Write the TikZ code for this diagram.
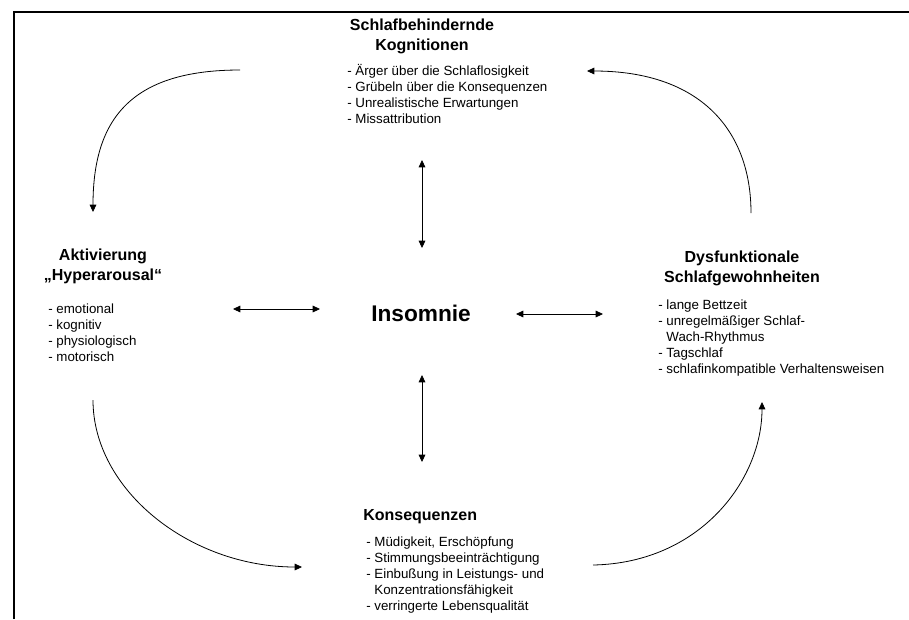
\documentclass[tikz,border=0pt]{standalone}
\usepackage{fontspec}
\setmainfont{Liberation Sans}
\usetikzlibrary{arrows.meta,positioning}
\begin{document}
\begin{tikzpicture}[
x=0.75pt, y=-0.75pt,
title/.style={font=\bfseries\fontsize{12}{14.4}\selectfont, align=center, inner sep=0pt},
items/.style={font=\fontsize{10}{12}\selectfont, align=left, inner sep=0pt, anchor=north west},
arr/.style={-{Triangle[length=5.5pt,width=5pt]}, line width=0.6pt},
dbl/.style={{Triangle[length=5.5pt,width=5pt]}-{Triangle[length=5.5pt,width=5pt]}, line width=0.6pt}
]
\useasboundingbox (0,0) rectangle (909,619);
\draw[line width=2pt] (14,619) -- (14,12) -- (909,12);
\node[title, anchor=north] (kogtitle) at (422,19) {Schlafbehindernde\\Kognitionen};
\node[items] (kogitems) at (347,64) {- Ärger über die Schlaflosigkeit\\- Grübeln über die Konsequenzen\\- Unrealistische Erwartungen\\- Missattribution};
\node[title, anchor=north] (akttitle) at (103,249) {Aktivierung\\„Hyperarousal“};
\node[items] (aktitems) at (48,304) {- emotional\\- kognitiv\\- physiologisch\\- motorisch};
\node[title, anchor=north] (dystitle) at (742,251) {Dysfunktionale\\Schlafgewohnheiten};
\node[items] (dysitems) at (658,300) {- lange Bettzeit\\- unregelmäßiger Schlaf-\\\phantom{- }Wach-Rhythmus\\- Tagschlaf\\- schlafinkompatible Verhaltensweisen};
\node[title, anchor=north west] (kontitle) at (363,509) {Konsequenzen};
\node[items] (konitems) at (366,537) {- Müdigkeit, Erschöpfung\\- Stimmungsbeeinträchtigung\\- Einbußung in Leistungs- und\\\phantom{- }Konzentrationsfähigkeit\\- verringerte Lebensqualität};
\node[font=\bfseries\fontsize{17}{20}\selectfont, inner sep=0pt] (insomnie) at (421,313) {Insomnie};
\draw[dbl] ([shift={(75,96)}]kogitems.north west) -- ([shift={(1,-65)}]insomnie.center);
\draw[dbl] ([shift={(56,-75)}]konitems.north west) -- ([shift={(1,62)}]insomnie.center);
\draw[dbl] ([shift={(185,5)}]aktitems.north west) -- ([shift={(-101,-4)}]insomnie.center);
\draw[dbl] ([shift={(-55,14)}]dysitems.north west) -- ([shift={(95,1)}]insomnie.center);
\draw[arr] ([shift={(-107,6)}]kogitems.north west) .. controls (130,70) and (93,120) .. ([shift={(-10,-37)}]akttitle.north);
\draw[arr] ([shift={(9,-38)}]dystitle.north) .. controls (751,130) and (700,71) .. ([shift={(240,7)}]kogitems.north west);
\draw[arr] ([shift={(45,96)}]aktitems.north west) .. controls (93,490) and (190,567) .. ([shift={(-64,30)}]konitems.north west);
\draw[arr] ([shift={(227,28)}]konitems.north west) .. controls (700,563) and (762,480) .. ([shift={(104,102)}]dysitems.north west);
\end{tikzpicture}
\end{document}
